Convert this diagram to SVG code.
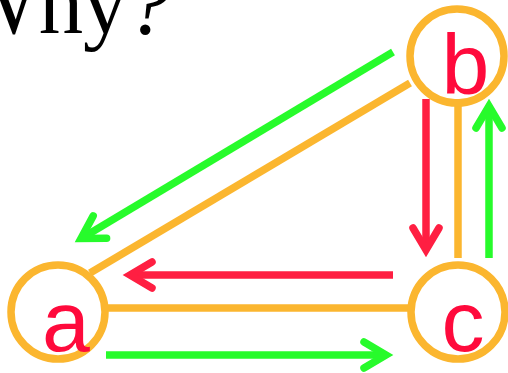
<svg xmlns="http://www.w3.org/2000/svg" width="508" height="373" viewBox="0 0 508 373">
  <style>
    .title { font-family: "Liberation Serif", "Times New Roman", serif; font-size: 88px; fill: #000; }
    .ring { fill: none; stroke: #FBB62F; stroke-width: 7.5; }
    .edge { fill: none; stroke: #FBB62F; stroke-width: 7.5; }
    .label { font-family: "Liberation Sans", Arial, sans-serif; font-size: 86px; fill: #FF0A3C; }
    .shaft { fill: none; stroke-width: 7.5; stroke-linecap: butt; }
    .head { fill: none; stroke-width: 7.5; stroke-linecap: round; stroke-linejoin: miter; stroke-miterlimit: 4; }
    .red { stroke: #FF1F42; }
    .green { stroke: #27FB2B; }
  </style>

  <text class="title" x="-44" y="33">Why<tspan font-style="italic">?</tspan></text>

  <!-- undirected edges of the triangle -->
  <g id="edges">
    <line class="edge" x1="90" y1="273" x2="410" y2="83"/>
    <line class="edge" x1="104" y1="308" x2="411" y2="308"/>
    <line class="edge" x1="458" y1="99" x2="458" y2="258"/>
  </g>

  <!-- directed connectors -->
  <g id="connectors">
    <g id="b-to-a" class="green">
      <line class="shaft green" x1="393" y1="52" x2="82" y2="238"/>
      <polyline class="head green" points="106.6,238.3 81,238.4 93.2,215.9"/>
    </g>
    <g id="b-to-c" class="red">
      <line class="shaft red" x1="426" y1="99" x2="426" y2="249"/>
      <polyline class="head red" points="413,228 426,250 439,228"/>
    </g>
    <g id="c-to-b" class="green">
      <line class="shaft green" x1="489" y1="258" x2="489" y2="107"/>
      <polyline class="head green" points="476,128 489,106 502,128"/>
    </g>
    <g id="c-to-a" class="red">
      <line class="shaft red" x1="393" y1="275" x2="131" y2="275"/>
      <polyline class="head red" points="152,262 130,275 152,288"/>
    </g>
    <g id="a-to-c" class="green">
      <line class="shaft green" x1="106" y1="355" x2="385" y2="355"/>
      <polyline class="head green" points="364,342 386,355 364,368"/>
    </g>
  </g>

  <g id="node-a">
    <circle class="ring" cx="58" cy="312" r="47"/>
    <text class="label" x="42" y="351">a</text>
  </g>
  <g id="node-b">
    <circle class="ring" cx="457" cy="56" r="47"/>
    <text class="label" x="441.5" y="93.5">b</text>
  </g>
  <g id="node-c">
    <circle class="ring" cx="458" cy="312" r="47"/>
    <text class="label" x="441.5" y="351">c</text>
  </g>
</svg>
